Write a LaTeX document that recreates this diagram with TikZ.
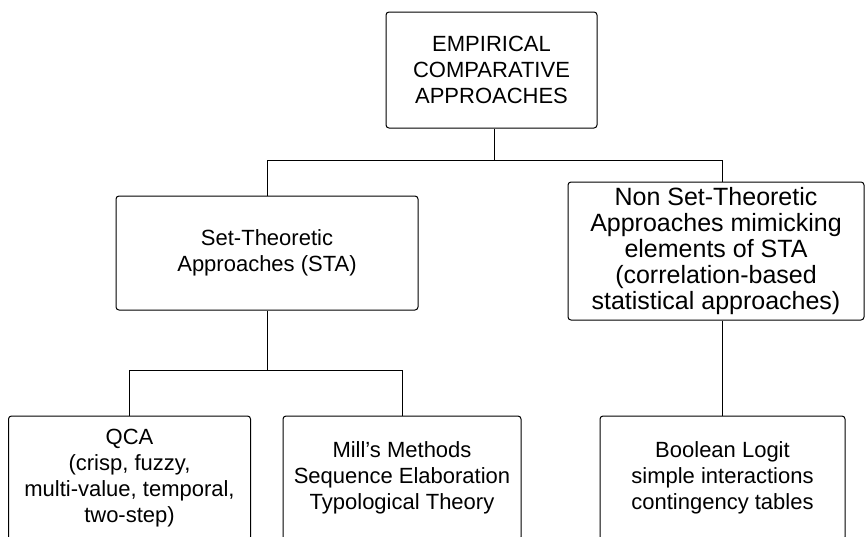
\documentclass[tikz,border=0pt]{standalone}
\usepackage{fontspec}
\setmainfont{Liberation Sans}
\usepackage{tikz}
\usetikzlibrary{positioning,calc}
\tikzstyle{approach} = [draw,line width=1pt,rounded corners=3pt,align=center,inner sep=0pt,
                        font=\fontsize{22}{26}\selectfont]
\tikzstyle{wide}     = [approach,font=\fontsize{25}{26}\selectfont]
\tikzstyle{branch}   = [line width=1pt]

\begin{document}
\begin{tikzpicture}[x=1pt,y=-1pt]
                  \clip (0,0) rectangle (865,536);
                  \node (top)[approach,minimum width=211pt,minimum height=116pt] at (491.5,70) {EMPIRICAL\\COMPARATIVE\\APPROACHES};
                  \node (sta)[approach,minimum width=302pt,minimum height=114pt] at (267,253) {Set-Theoretic\\Approaches (STA)};
                  \node (nonsta)[wide,minimum width=296pt,minimum height=138pt] at (716,251) {Non Set-Theoretic\\Approaches mimicking\\elements of STA\\(correlation-based\\statistical approaches)};
                  \node (qca)[approach,minimum width=242pt,minimum height=124pt] at (129.5,478) {QCA\\(crisp, fuzzy,\\multi-value, temporal,\\two-step)};
                  \node (mill)[approach,minimum width=238pt,minimum height=124pt] at (402,478) {Mill’s Methods\\Sequence Elaboration\\Typological Theory};
                  \node (logit)[approach,minimum width=245pt,minimum height=124pt] at (722.5,478) {Boolean Logit\\simple interactions\\contingency tables};

                  \coordinate (split1) at (494,160);
                  \coordinate (split2) at (267,370);

                  \draw[branch] (top.south -| split1) -- (split1);
                  \draw[branch] (sta.north) -- (sta.north |- split1) -- (split1 -| logit.north) -- (nonsta.north -| logit.north);
                  \draw[branch] (sta.south) -- (split2);
                  \draw[branch] (qca.north) -- (qca.north |- split2) -- (mill.north |- split2) -- (mill.north);
                  \draw[branch] (nonsta.south -| logit.north) -- (logit.north);
            \end{tikzpicture}
\end{document}
